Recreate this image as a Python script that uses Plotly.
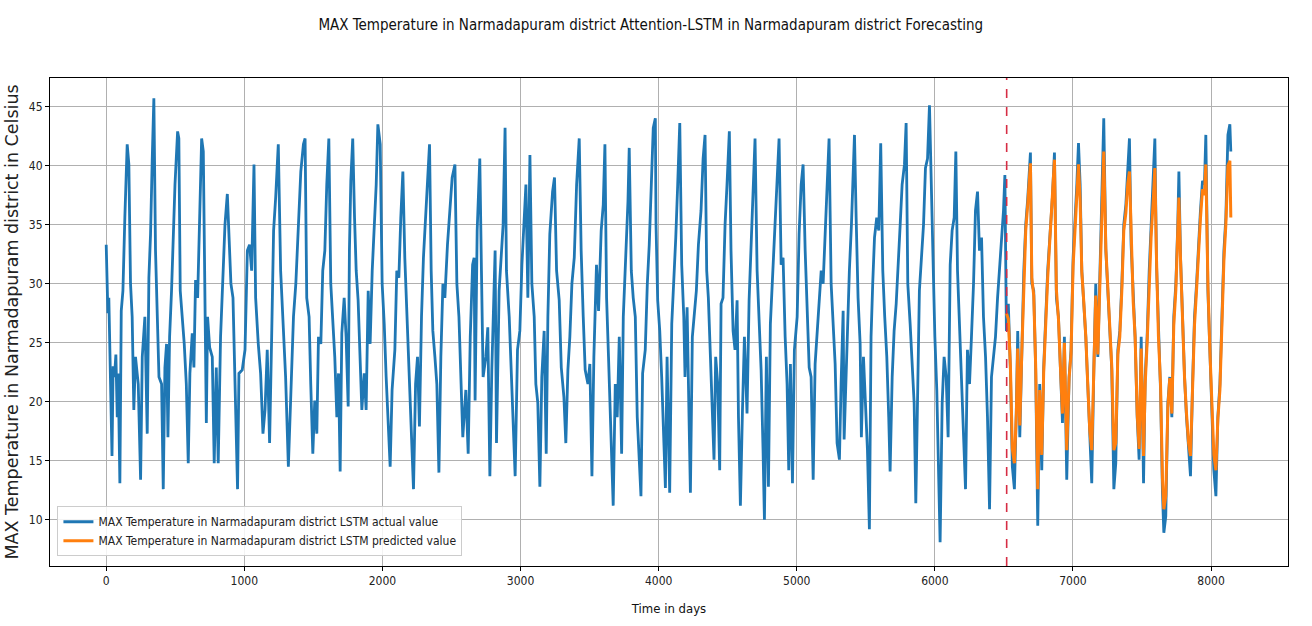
import plotly.graph_objects as go

# ---------------- data ----------------
days = [
    0, 5, 12, 19, 30, 42, 50, 60, 70, 80, 87, 99, 109, 121, 135, 152, 164, 176, 188, 200, 212, 232, 249, 261, 280, 297,
    309, 321, 333, 345, 357, 370, 382, 401, 413, 425, 437, 447, 459, 473, 483, 498, 517, 526, 536, 551, 565, 580,
    594, 606, 623, 635, 647, 662, 676, 691, 703, 715, 725, 734, 749, 768, 782, 797, 811, 828, 845, 860, 877, 889,
    903, 918, 932, 951, 961, 985, 1005, 1022, 1038, 1053, 1070, 1082, 1101, 1118, 1135, 1150, 1166, 1183, 1198,
    1212, 1227, 1246, 1263, 1280, 1299, 1319,
    1336, 1356, 1373, 1385, 1397, 1409, 1428, 1440, 1452, 1469, 1481, 1496, 1510, 1525, 1537, 1554, 1568, 1583,
    1597, 1612, 1626, 1641, 1655, 1670, 1682, 1694, 1706, 1723, 1737, 1752, 1761, 1771, 1785, 1798, 1810, 1824,
    1839, 1851, 1868, 1882, 1897, 1911, 1926, 1940, 1955, 1967, 1984, 1998, 2013, 2027, 2041, 2056, 2070, 2090,
    2104, 2119, 2133, 2148, 2162, 2177, 2191, 2206, 2225, 2240, 2254, 2268, 2283, 2297, 2312, 2326, 2341, 2353,
    2365, 2380, 2394, 2409, 2423, 2438, 2452, 2471, 2486, 2505, 2525, 2539, 2554, 2568, 2582, 2604, 2621, 2636, 2653,
    2664, 2671, 2686, 2705, 2717, 2729, 2749, 2763, 2778, 2792, 2816, 2826, 2845, 2860, 2874, 2888, 2898, 2918,
    2937, 2947, 2961, 2978, 2995, 3010, 3026, 3039, 3053, 3068, 3082, 3099, 3111, 3125, 3140, 3154, 3171, 3186,
    3198, 3212, 3232, 3246, 3261, 3280, 3295, 3314, 3328, 3343, 3357, 3372, 3389, 3406, 3425, 3439, 3454, 3468,
    3488, 3502, 3517, 3531, 3550, 3565, 3584, 3599, 3611, 3623, 3637, 3652, 3671, 3686, 3700, 3715, 3732, 3744,
    3763, 3778, 3787, 3802, 3816, 3831, 3845, 3860, 3872, 3884, 3903, 3918, 3932, 3947, 3961, 3976,
    3981, 3993, 4008, 4022, 4037, 4049, 4061, 4080, 4095, 4109, 4124, 4138, 4153, 4167, 4182, 4191, 4206, 4220,
    4230, 4244, 4259, 4273, 4288, 4307, 4322, 4336, 4348, 4360, 4375, 4389, 4401, 4413, 4428, 4442, 4452, 4466,
    4481, 4495, 4512, 4524, 4539, 4553, 4568, 4578, 4592, 4607, 4621, 4640, 4655, 4669, 4684, 4698, 4713, 4727,
    4742, 4756, 4766, 4780, 4795, 4809, 4829, 4843, 4858, 4872, 4887, 4901, 4916, 4930, 4942, 4954, 4969, 4983,
    5003, 5017, 5032, 5046, 5061, 5075, 5090, 5104, 5119, 5133, 5148, 5162, 5177, 5191, 5206, 5220, 5234, 5249,
    5263, 5278, 5292, 5309, 5321, 5336,
    5343, 5357, 5369, 5381, 5396, 5406, 5418, 5430, 5444, 5459, 5468, 5483, 5497, 5512, 5526, 5538, 5550, 5563,
    5579, 5594, 5608, 5623, 5637, 5652, 5666, 5676, 5691, 5705, 5720, 5734, 5749, 5763, 5780, 5792, 5804, 5821,
    5835, 5850, 5862, 5876, 5888, 5903, 5918, 5932, 5947, 5961, 5973, 5985, 6000, 6014, 6029, 6038, 6053, 6067,
    6082, 6096, 6111, 6125, 6140, 6152, 6164, 6178, 6193, 6207, 6222, 6236, 6251, 6265, 6280, 6294, 6309, 6323,
    6338, 6352, 6367, 6381, 6396, 6410, 6425, 6439, 6454, 6468, 6483, 6497, 6507,
]

actual_temp = [
    33.3, 29.4, 27.5, 28.8, 22.7, 15.4, 23.0, 22.1, 24.0, 18.7, 22.4, 13.1, 27.7, 29.4, 35.6, 41.8, 40.1, 30.0, 27.2,
    19.3, 23.8, 21.5, 13.4, 23.8, 27.2, 17.3, 30.5, 34.2, 40.4, 45.7, 32.8, 27.2, 22.1, 21.5, 12.6, 22.9, 24.9,
    17.0, 25.5, 29.4, 33.3, 38.4, 42.9, 42.3, 29.4, 27.2, 24.9, 21.5, 14.8, 22.4, 25.8, 22.9, 30.3, 28.8, 35.6,
    42.3, 41.2, 29.4, 18.2, 27.2, 24.6, 23.8, 14.8, 22.9, 14.8, 25.5, 31.1, 35.0, 37.6, 34.2, 30.0, 28.8, 22.7,
    12.6, 22.4, 22.7, 24.4, 32.8, 33.3, 31.1, 40.1, 28.8, 24.9, 22.4, 17.3, 19.3, 24.4, 16.5, 25.5, 34.5, 37.3,
    41.8, 31.1, 26.6, 22.1, 14.5,
    21.0, 27.2, 30.0, 32.8, 36.2, 39.5, 41.8, 42.3, 28.8, 27.2, 21.5, 15.6, 20.1, 17.3, 25.5, 24.9, 31.1, 32.8,
    38.4, 42.3, 30.0, 26.6, 23.8, 18.7, 22.4, 14.1, 25.8, 28.8, 25.5, 19.6, 32.8, 38.7, 42.3, 35.6, 31.1, 28.6,
    23.2, 19.3, 22.4, 19.3, 29.4, 24.9, 31.1, 34.2, 38.4, 43.5, 41.8, 30.0, 26.6, 22.1, 18.2, 14.5, 21.0, 24.4,
    31.1, 30.5, 35.6, 39.5, 32.2, 27.2, 22.7, 18.7, 12.6, 21.5, 23.8, 17.9, 27.2, 32.2, 35.6, 39.5, 41.8, 31.1,
    26.0, 23.8, 21.5, 14.0, 23.8, 30.0, 28.8, 33.3, 35.6, 39.0, 40.1, 30.0, 27.2, 21.5, 17.0, 21.0, 15.6, 25.5, 31.6,
    32.2, 20.1, 34.5, 40.6, 31.1, 22.1, 23.8, 26.3, 13.7, 22.7, 32.8, 16.5, 29.4, 32.2, 35.0, 43.2, 31.1, 27.2,
    21.5, 19.3, 13.7, 24.4, 26.0, 31.6, 35.6, 38.4, 28.8, 40.9, 30.0, 27.2, 21.5, 19.9, 12.8, 22.1, 26.0, 15.6,
    27.2, 34.2, 37.8, 39.0, 31.1, 28.6, 22.9, 20.4, 16.5, 22.7, 25.5, 30.0, 32.2, 38.4, 42.3, 32.8, 27.2, 22.7,
    21.5, 23.2, 13.7, 23.8, 31.6, 27.7, 34.5, 36.7, 41.8, 28.8, 23.8, 18.7, 11.2, 21.5, 18.7, 25.5, 15.6, 27.2,
    32.8, 37.0, 41.5, 31.1, 28.8, 27.2, 18.7, 14.2, 12.0, 22.4, 24.4, 30.0, 33.3, 38.4, 43.2, 44.0,
    35.0, 28.6, 26.0, 22.1, 15.9, 12.7, 23.8, 12.3, 26.6, 30.0, 33.9, 38.4, 43.6, 31.6, 27.2, 22.1, 28.0, 18.7,
    12.3, 25.5, 27.2, 29.4, 33.3, 36.2, 40.6, 42.6, 31.1, 28.8, 23.8, 18.7, 15.1, 23.8, 21.5, 14.2, 28.3, 28.8,
    35.0, 38.4, 42.9, 32.8, 26.0, 24.4, 28.6, 18.7, 11.2, 19.3, 25.5, 19.0, 28.6, 33.1, 38.4, 42.3, 31.1, 27.4,
    22.7, 15.9, 10.0, 23.8, 12.8, 26.6, 31.4, 34.7, 39.5, 42.3, 31.6, 32.2, 25.5, 21.5, 14.2, 23.2, 13.1, 24.4,
    27.2, 34.2, 38.4, 40.1, 32.8, 28.3, 22.9, 22.1, 13.4, 23.2, 26.0, 28.8, 31.1, 30.0, 34.5, 39.5, 42.3, 30.0,
    27.2, 23.2, 16.5, 15.1, 21.5, 27.7,
    16.8, 22.7, 27.2, 31.1, 35.0, 38.9, 42.6, 35.6, 28.8, 24.9, 17.0, 23.8, 19.9, 15.9, 9.2, 25.5, 30.0, 33.9,
    35.6, 34.5, 41.9, 31.1, 27.2, 23.8, 18.7, 14.1, 22.1, 26.0, 28.3, 31.1, 35.0, 38.4, 40.1, 43.6, 30.0, 26.6,
    23.2, 19.9, 11.4, 22.1, 29.4, 32.2, 35.0, 39.8, 40.6, 45.1, 38.4, 31.1, 25.5, 21.0, 13.1, 8.1, 19.9, 23.8,
    22.1, 17.0, 31.6, 34.5, 35.6, 41.2, 31.1, 26.6, 23.2, 18.7, 12.6, 24.4, 21.5, 25.5, 30.0, 36.2, 37.8, 32.8,
    33.9, 27.2, 23.8, 18.7, 10.9, 22.1, 23.8, 25.5, 28.8, 31.1, 33.3, 36.2, 39.2,
]

# forecast period (test set): actual and predicted values
test_days = [
    6518, 6532, 6547, 6561, 6576, 6590, 6600, 6615, 6629, 6644, 6658, 6673, 6692, 6702, 6716, 6730, 6745, 6759,
    6774, 6788, 6803, 6817, 6834, 6851, 6866, 6880, 6895, 6909, 6924, 6938, 6955, 6972, 6986, 7001, 7015, 7028,
    7040, 7052, 7064, 7078, 7093, 7107, 7122, 7136, 7151, 7165, 7180, 7194, 7209, 7223, 7238, 7252, 7267, 7281,
    7296, 7310, 7325, 7339, 7354, 7368, 7383, 7397, 7409, 7421, 7436, 7450, 7465, 7479, 7494, 7511, 7523, 7537,
    7552, 7566, 7581, 7593, 7605, 7619, 7634, 7648, 7658, 7672, 7687, 7701, 7716, 7730, 7745, 7759, 7767, 7779,
    7793, 7808, 7822, 7837, 7851, 7866, 7880, 7895, 7909, 7923, 7938, 7952, 7962, 7977, 7991, 8006, 8020, 8035,
    8049, 8064, 8078, 8093, 8107, 8122, 8136, 8143,
]
test_actual = [
    26.0, 28.3, 22.7, 14.5, 12.6, 19.3, 26.0, 17.0, 24.4, 31.1, 35.0, 37.3, 41.1, 30.0, 29.4, 22.7, 9.5, 21.5,
    14.2, 22.9, 27.2, 31.1, 34.2, 37.3, 41.1, 28.8, 27.2, 22.7, 18.2, 25.5, 13.4, 22.1, 24.4, 32.2, 35.0, 38.4,
    41.9, 38.4, 31.1, 28.8, 25.5, 21.5, 17.0, 13.1, 22.7, 30.0, 23.8, 30.5, 38.4, 44.0, 32.8, 29.4, 25.5, 22.7,
    12.6, 14.8, 24.4, 26.0, 30.0, 35.0, 36.7, 39.5, 42.3, 33.3, 28.8, 25.5, 18.7, 15.1, 25.5, 13.1, 22.1, 25.5,
    31.1, 35.0, 37.8, 42.3, 31.6, 25.5, 21.0, 12.3, 8.9, 10.3, 19.9, 22.1, 18.7, 27.2, 30.0, 35.0, 39.5, 32.2,
    26.6, 22.1, 18.7, 15.9, 13.7, 21.5, 27.2, 30.0, 33.3, 36.2, 38.7, 38.4, 42.6, 29.4, 24.4, 18.7, 14.2, 12.0,
    18.7, 21.5, 27.2, 32.8, 35.6, 42.6, 43.5, 41.2,
]
test_predicted = [
    27.5, 27.0, 23.0, 16.0, 14.8, 19.0, 24.5, 18.0, 24.0, 30.5, 34.5, 36.8, 40.2, 30.5, 29.0, 23.0, 12.6, 21.0,
    15.5, 22.5, 27.0, 30.5, 34.0, 37.0, 40.5, 29.5, 27.0, 23.0, 19.0, 25.0, 15.9, 22.0, 24.0, 31.5, 34.5, 37.5,
    40.1, 37.0, 31.0, 28.5, 25.5, 21.5, 17.5, 15.9, 22.0, 29.0, 24.0, 30.0, 37.0, 41.2, 33.0, 29.5, 25.5, 23.0,
    15.9, 16.5, 24.0, 25.5, 29.5, 34.5, 36.0, 38.5, 39.5, 33.5, 28.5, 25.5, 19.0, 16.0, 24.5, 15.4, 21.5, 25.0,
    30.5, 34.0, 37.0, 39.8, 32.0, 25.5, 21.5, 13.5, 10.9, 12.0, 19.5, 22.0, 19.0, 26.5, 29.5, 34.5, 37.3, 32.0,
    26.5, 22.0, 19.0, 16.5, 15.4, 21.0, 26.5, 29.5, 33.0, 35.5, 38.0, 37.5, 40.1, 30.0, 24.5, 19.0, 15.5, 14.2,
    18.5, 21.0, 26.5, 32.0, 35.0, 40.0, 40.4, 35.6,
]

split_day = 6520
x_ticks = [0, 1000, 2000, 3000, 4000, 5000, 6000, 7000, 8000]
y_ticks = [10, 15, 20, 25, 30, 35, 40, 45]

title_text = "MAX Temperature in Narmadapuram district Attention-LSTM in Narmadapuram district Forecasting"
name_actual = "MAX Temperature in Narmadapuram district LSTM actual value"
name_pred = "MAX Temperature in Narmadapuram district LSTM predicted value"

assert len(days) == len(actual_temp)
assert len(test_days) == len(test_actual) == len(test_predicted)

# ---------------- figure ----------------
FONT = "DejaVu Sans Condensed, Liberation Sans Narrow, DejaVu Sans, sans-serif"

all_days = days + test_days
all_actual = actual_temp + test_actual

fig = go.Figure()
fig.add_trace(go.Scatter(
    x=all_days, y=all_actual, mode="lines", name=name_actual,
    line=dict(color="#1f77b4", width=2.8),
))
fig.add_trace(go.Scatter(
    x=test_days, y=test_predicted, mode="lines", name=name_pred,
    line=dict(color="#ff7f0e", width=3.0),
))

fig.add_vline(x=split_day, line=dict(color="#d62d44", width=1.6, dash="dash"))

fig.update_layout(
    width=1312, height=626,
    margin=dict(l=50, r=24, t=78, b=58),
    paper_bgcolor="white", plot_bgcolor="white",
    font=dict(family=FONT, size=12, color="#222"),
    title=dict(text=title_text, x=0.496, xanchor="center", y=0.96, yanchor="middle",
               font=dict(family=FONT, size=15, color="#111")),
    showlegend=True,
    legend=dict(x=0.006, y=0.02, xanchor="left", yanchor="bottom",
                bgcolor="rgba(255,255,255,0.85)", bordercolor="#cccccc", borderwidth=1,
                font=dict(family=FONT, size=12, color="#222"), tracegroupgap=2),
)

fig.update_xaxes(
    range=[-407, 8557], tickvals=x_ticks, ticktext=[str(t) for t in x_ticks],
    showgrid=True, gridcolor="#b0b0b0", gridwidth=1,
    showline=True, linecolor="black", linewidth=1, mirror=True,
    ticks="outside", ticklen=4, tickcolor="black", zeroline=False,
    title=dict(text="Time in days", font=dict(family=FONT, size=13, color="#111"), standoff=16),
    tickfont=dict(family=FONT, size=12, color="#222"),
)
fig.update_yaxes(
    range=[6.09, 47.42], tickvals=y_ticks, ticktext=[str(t) for t in y_ticks],
    showgrid=True, gridcolor="#b0b0b0", gridwidth=1,
    showline=True, linecolor="black", linewidth=1, mirror=True,
    ticks="outside", ticklen=4, tickcolor="black", zeroline=False,
    title=dict(text="MAX Temperature in Narmadapuram district in Celsius",
               font=dict(family="DejaVu Sans, sans-serif", size=17.5, color="#222"), standoff=5),
    tickfont=dict(family=FONT, size=12, color="#222"),
)

fig.write_html("out.html")
